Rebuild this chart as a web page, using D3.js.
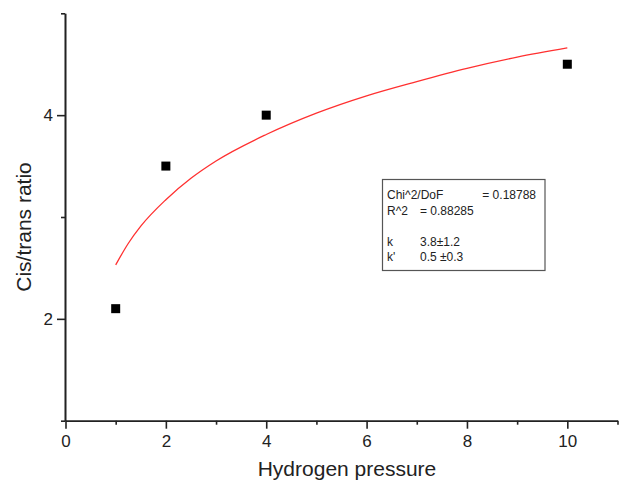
<!DOCTYPE html>
<html>
<head>
<meta charset="utf-8">
<script src="https://cdn.jsdelivr.net/npm/d3@7"></script>
<style>
  html, body { margin: 0; padding: 0; background: #fff; }
  svg { display: block; font-family: "Liberation Sans", Arial, sans-serif; }
</style>
</head>
<body>
<svg id="chart" width="619" height="481"></svg>
<script>
// Measured data points
const pressure = [1, 2, 4, 10];
const ratio = [2.1, 3.5, 4.0, 4.5];

// Fit curve, values
const fitX = [1, 1.25, 1.5, 2, 2.5, 3, 4, 5, 6, 7, 8, 9, 10];
const fitY = [2.53, 2.74, 2.91, 3.17, 3.38, 3.55, 3.81, 4.02, 4.19, 4.33, 4.46, 4.57, 4.66];

// Tick values
const xMajor = [0, 2, 4, 6, 8, 10];
const xMinor = [1, 3, 5, 7, 9, 11];
const yMajor = [2, 4];
const yMinor = [1, 3, 5];

// Fit statistics box
const statLabels = ["Chi^2/DoF", "R^2", "", "k", "k'"];
const statValues = ["= 0.18788", "= 0.88285", "", "3.8\u00b11.2", "0.5 \u00b10.3"];

const svg = d3.select("#chart");
const x = d3.scaleLinear().domain([0, 11]).range([65.5, 617.5]);
const y = d3.scaleLinear().domain([1, 5]).range([420.7, 13.3]);

const axisColor = "#222";

function styleAxis(g) {
  g.selectAll("path, line").attr("stroke", axisColor).attr("stroke-width", 1.6);
  g.selectAll("text").attr("fill", "#222").attr("font-size", 17)
    .attr("font-family", "'Liberation Sans', Arial, sans-serif");
}

// X axis
svg.append("g").attr("transform", `translate(0,${y(1)})`)
  .call(d3.axisBottom(x).tickValues(xMinor).tickSize(4).tickSizeOuter(0).tickFormat(""))
  .call(styleAxis);
svg.append("g").attr("transform", `translate(0,${y(1)})`)
  .call(d3.axisBottom(x).tickValues(xMajor).tickSize(8).tickSizeOuter(0).tickPadding(6).tickFormat(d3.format("d")))
  .call(styleAxis);

// Y axis
svg.append("g").attr("transform", `translate(${x(0) - 0.5},0)`)
  .call(d3.axisLeft(y).tickValues(yMinor).tickSize(4).tickSizeOuter(0).tickFormat(""))
  .call(styleAxis);
svg.append("g").attr("transform", `translate(${x(0) - 0.5},0)`)
  .call(d3.axisLeft(y).tickValues(yMajor).tickSize(8).tickSizeOuter(0).tickPadding(4).tickFormat(d3.format("d")))
  .call(styleAxis);

// Axis titles
svg.append("text")
  .attr("x", 347).attr("y", 476)
  .attr("text-anchor", "middle")
  .attr("font-size", 21).attr("fill", "#222")
  .text("Hydrogen pressure");

svg.append("text")
  .attr("transform", "translate(31,227) rotate(-90)")
  .attr("text-anchor", "middle")
  .attr("font-size", 21).attr("fill", "#222")
  .text("Cis/trans ratio");

// Fit curve
const fitData = fitX.map((v, i) => [v, fitY[i]]);
svg.append("path")
  .datum(fitData)
  .attr("fill", "none")
  .attr("stroke", "#ff3030")
  .attr("stroke-width", 1.3)
  .attr("d", d3.line().x(d => x(d[0])).y(d => y(d[1])).curve(d3.curveMonotoneX));

// Data points
const sq = 9;
svg.append("g").selectAll("rect")
  .data(pressure.map((v, i) => [v, ratio[i]]))
  .join("rect")
  .attr("x", d => x(d[0]) - sq / 2)
  .attr("y", d => y(d[1]) - sq / 2)
  .attr("width", sq).attr("height", sq)
  .attr("fill", "#000");

// Statistics box
svg.append("rect")
  .attr("x", 382.5).attr("y", 179.5)
  .attr("width", 162.5).attr("height", 91)
  .attr("fill", "#fff")
  .attr("stroke", "#555").attr("stroke-width", 1.2);

const rowY = [199, 214.5, 230, 245.5, 261];
const box = svg.append("g").attr("font-size", 12).attr("fill", "#222");
statLabels.forEach((t, i) => {
  if (!t) return;
  box.append("text").attr("x", 387).attr("y", rowY[i]).text(t);
});
box.append("text").attr("x", 536).attr("y", rowY[0]).attr("text-anchor", "end").text(statValues[0]);
box.append("text").attr("x", 420).attr("y", rowY[1]).text(statValues[1]);
box.append("text").attr("x", 420).attr("y", rowY[3]).text(statValues[3]);
box.append("text").attr("x", 420).attr("y", rowY[4]).text(statValues[4]);
</script>
</body>
</html>
